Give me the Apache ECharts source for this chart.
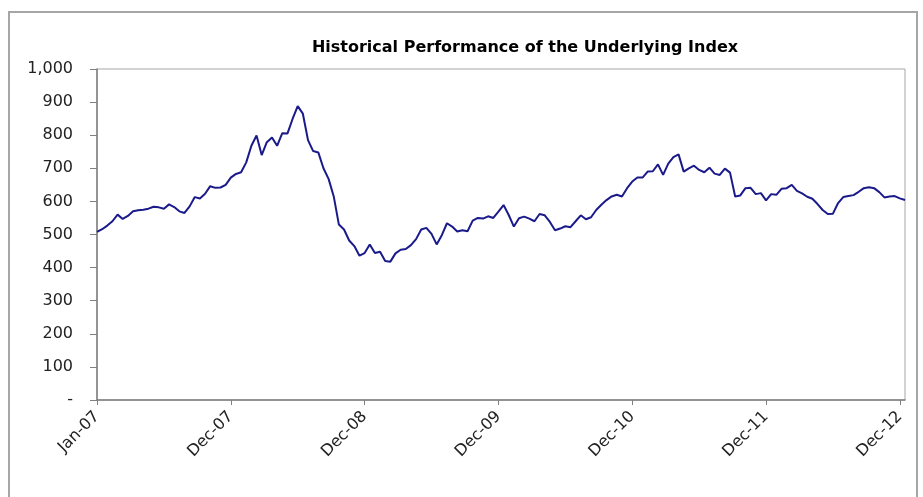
<!DOCTYPE html>
<html>
<head>
<meta charset="utf-8">
<script src="https://cdn.jsdelivr.net/npm/echarts@6/dist/echarts.min.js"></script>
<style>
  html, body { margin: 0; padding: 0; background: #fff; }
  #chart { width: 923px; height: 497px; }
</style>
</head>
<body>
<div id="chart"></div>
<script>
// tick labels shown every 26 points along the x axis
const tickLabels = ['Jan-07', 'Dec-07', 'Dec-08', 'Dec-09', 'Dec-10', 'Dec-11', 'Dec-12'];
const tickStep = 26;

// index level (roughly fortnightly)
const level2007 = [508, 516, 527, 540, 560, 547, 556, 570, 573, 575, 578, 584, 582, 578, 591, 583,
    570, 565, 585, 613, 609, 623, 646, 641, 642, 650];
const level2008 = [672, 683, 688, 718, 768, 799, 740, 779, 793, 768, 806, 805, 849, 888, 865, 785,
    752, 748, 700, 668, 615, 530, 515, 482, 465, 436];
const level2009 = [444, 470, 444, 448, 420, 418, 443, 454, 456, 468, 486, 515, 520, 502, 470, 498,
    534, 524, 509, 513, 510, 542, 550, 548, 555, 550];
const level2010 = [569, 589, 559, 524, 549, 554, 548, 540, 562, 558, 538, 513, 518, 525, 522, 540,
    558, 546, 552, 574, 590, 604, 615, 620, 615, 640];
const level2011 = [660, 672, 672, 690, 691, 712, 680, 714, 734, 742, 690, 700, 708, 695, 688, 702,
    684, 680, 699, 687, 615, 618, 640, 641, 622, 625];
const level2012 = [603, 622, 620, 638, 640, 650, 632, 624, 614, 608, 592, 574, 562, 563, 595, 613,
    616, 619, 629, 640, 643, 640, 628, 612, 615, 616, 609, 604];

const values = [].concat(level2007, level2008, level2009, level2010, level2011, level2012);
const categories = values.map((v, i) => String(i));

const chart = echarts.init(document.getElementById('chart'));

const labelFont = 'DejaVu Sans';

const option = {
    backgroundColor: '#ffffff',
    animation: false,
    title: {
        text: 'Historical Performance of the Underlying Index',
        left: 520,
        top: 35,
        textAlign: 'center',
        textStyle: {
            fontFamily: labelFont,
            fontSize: 16,
            fontWeight: 'bold',
            color: '#000'
        }
    },
    graphic: [{
        type: 'rect',
        shape: { x: 9, y: 12, width: 908, height: 500 },
        style: { fill: 'none', stroke: '#a6a6a6', lineWidth: 2 },
        silent: true
    }],
    grid: {
        left: 97,
        right: 18,
        top: 69,
        bottom: 97,
        show: true,
        borderColor: '#a6a6a6',
        borderWidth: 1
    },
    xAxis: {
        type: 'category',
        data: categories,
        boundaryGap: false,
        axisLine: { lineStyle: { color: '#7f7f7f', width: 1.5 } },
        axisTick: { interval: tickStep - 1, length: 5, lineStyle: { color: '#7f7f7f' } },
        axisLabel: {
            interval: tickStep - 1,
            rotate: 45,
            margin: 14,
            fontFamily: labelFont,
            fontSize: 16,
            color: '#222',
            formatter: function (v, idx) {
                return tickLabels[Math.round(idx / tickStep)] || '';
            }
        },
        splitLine: { show: false }
    },
    yAxis: {
        type: 'value',
        min: 0,
        max: 1000,
        interval: 100,
        axisLine: { show: true, lineStyle: { color: '#7f7f7f', width: 1.5 } },
        axisTick: { show: true, length: 7, lineStyle: { color: '#7f7f7f' } },
        axisLabel: {
            margin: 24,
            fontFamily: labelFont,
            fontSize: 16,
            color: '#222',
            formatter: function (v) {
                return v === 0 ? '-' : v.toLocaleString('en-US');
            }
        },
        splitLine: { show: false }
    },
    series: [{
        type: 'line',
        data: values,
        showSymbol: false,
        smooth: false,
        lineStyle: { color: '#1a1a8a', width: 2 }
    }]
};

chart.setOption(option);
</script>
</body>
</html>
